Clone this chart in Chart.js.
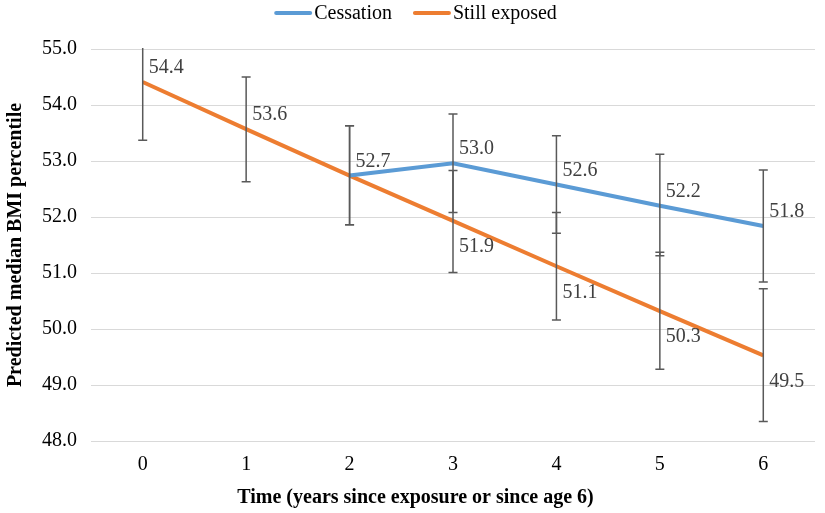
<!DOCTYPE html>
<html>
<head>
<meta charset="utf-8">
<script src="https://cdn.jsdelivr.net/npm/chart.js@4.4.1/dist/chart.umd.min.js"></script>
<style>
  body { margin: 0; background: #fff; }
  #wrap { width: 825px; height: 513px; }
</style>
</head>
<body>
<div id="wrap"><canvas id="bmiChart"></canvas></div>
<script>
const years = ['0', '1', '2', '3', '4', '5', '6'];
const yTicks = [48, 49, 50, 51, 52, 53, 54, 55];

// predicted values
const cessation = [null, null, 52.74, 52.96, 52.58, 52.2, 51.84];
const stillExposed = [54.41, 53.57, 52.74, 51.93, 51.12, 50.32, 49.53];

// error bar limits (read from the whiskers)
const cessationLow = [null, null, 51.86, 52.08, 51.71, 51.31, 50.84];
const cessationHigh = [null, null, 53.63, 53.84, 53.45, 53.12, 52.84];
const exposedLow = [53.37, 52.63, 51.86, 51.01, 50.16, 49.28, 48.35];
const exposedHigh = [55.44, 54.50, 53.63, 52.83, 52.08, 51.37, 50.72];

const xTitle = 'Time (years since exposure or since age 6)';
const yTitle = 'Predicted median BMI percentile';

const serif = "'Liberation Serif', 'Times New Roman', serif";

// whiskers, value labels, legend and x title
const extrasPlugin = {
    id: 'extras',
    afterDatasetsDraw(chart) {
        const ctx = chart.ctx;
        const area = chart.chartArea;
        const xs = chart.scales.x;
        const ys = chart.scales.y;

        ctx.save();
        ctx.beginPath();
        ctx.rect(area.left, area.top - 1, area.right - area.left, area.bottom - area.top + 2);
        ctx.clip();
        ctx.strokeStyle = '#595959';
        ctx.lineWidth = 1.5;
        const bars = [[cessationLow, cessationHigh], [exposedLow, exposedHigh]];
        bars.forEach(([lo, hi]) => {
            lo.forEach((v, i) => {
                if (v === null) return;
                const x = xs.getPixelForValue(i);
                const y1 = ys.getPixelForValue(v);
                const y2 = ys.getPixelForValue(hi[i]);
                ctx.beginPath();
                ctx.moveTo(x, y1); ctx.lineTo(x, y2);
                ctx.moveTo(x - 4.5, y1); ctx.lineTo(x + 4.5, y1);
                ctx.moveTo(x - 4.5, y2); ctx.lineTo(x + 4.5, y2);
                ctx.stroke();
            });
        });
        ctx.restore();

        ctx.save();
        ctx.font = '20px ' + serif;
        ctx.fillStyle = '#404040';
        ctx.textAlign = 'left';
        ctx.textBaseline = 'middle';
        chart.data.datasets.forEach((ds) => {
            ds.data.forEach((v, i) => {
                if (v === null || ds.skipLabel.includes(i)) return;
                const x = xs.getPixelForValue(i);
                const y = ys.getPixelForValue(v);
                const dy = ds.labelBelow.includes(i) ? 26 : -14;
                ctx.fillText(v.toFixed(1), x + 6, y + dy);
            });
        });
        ctx.restore();
    },
    afterDraw(chart) {
        const ctx = chart.ctx;
        const mid = chart.width / 2 + 3;

        // legend
        ctx.save();
        ctx.font = '20px ' + serif;
        ctx.textBaseline = 'middle';
        ctx.textAlign = 'left';
        const items = chart.data.datasets.map(ds => ({
            text: ds.label, color: ds.borderColor, w: ctx.measureText(ds.label).width
        }));
        const lineW = 38, gap = 2, itemGap = 21;
        let total = 0;
        items.forEach((it, k) => { total += lineW + gap + it.w + (k ? itemGap : 0); });
        let x = mid - total / 2;
        const ly = 13;
        items.forEach((it) => {
            ctx.strokeStyle = it.color;
            ctx.lineWidth = 4;
            ctx.lineCap = 'round';
            ctx.beginPath();
            ctx.moveTo(x + 2, ly); ctx.lineTo(x + lineW - 2, ly);
            ctx.stroke();
            ctx.fillStyle = '#000';
            ctx.fillText(it.text, x + lineW + gap, ly + 1);
            x += lineW + gap + it.w + itemGap;
        });

        // x axis title
        ctx.font = 'bold 20px ' + serif;
        ctx.textAlign = 'center';
        ctx.fillText(xTitle, mid, 498);
        ctx.restore();
    }
};

const ctx = document.getElementById('bmiChart').getContext('2d');
new Chart(ctx, {
    type: 'line',
    data: {
        labels: years,
        datasets: [
            {
                label: 'Cessation',
                data: cessation,
                borderColor: '#5B9BD5',
                backgroundColor: '#5B9BD5',
                borderWidth: 4,
                pointRadius: 0,
                tension: 0,
                skipLabel: [2],
                labelBelow: []
            },
            {
                label: 'Still exposed',
                data: stillExposed,
                borderColor: '#ED7D31',
                backgroundColor: '#ED7D31',
                borderWidth: 4,
                pointRadius: 0,
                tension: 0,
                skipLabel: [],
                labelBelow: [3, 4, 5, 6]
            }
        ]
    },
    options: {
        responsive: true,
        maintainAspectRatio: false,
        animation: false,
        layout: { padding: { top: 49, right: 10, left: 0, bottom: 32 } },
        plugins: {
            legend: { display: false },
            tooltip: { enabled: false }
        },
        scales: {
            x: {
                offset: true,
                grid: { display: false },
                border: { display: false },
                ticks: { color: '#000', font: { family: serif, size: 20 }, padding: 4 }
            },
            y: {
                min: 48,
                max: 55,
                afterBuildTicks: (axis) => { axis.ticks = yTicks.map(v => ({ value: v })); },
                grid: { color: '#d9d9d9', lineWidth: 1, drawTicks: false },
                border: { display: false },
                ticks: {
                    color: '#000',
                    padding: 14,
                    font: { family: serif, size: 20 },
                    callback: (v) => Number(v).toFixed(1)
                },
                title: {
                    display: true,
                    text: yTitle,
                    color: '#000',
                    font: { family: serif, size: 20, weight: 'bold' },
                    padding: { top: 4, bottom: 0 }
                }
            }
        }
    },
    plugins: [extrasPlugin]
});
</script>
</body>
</html>
